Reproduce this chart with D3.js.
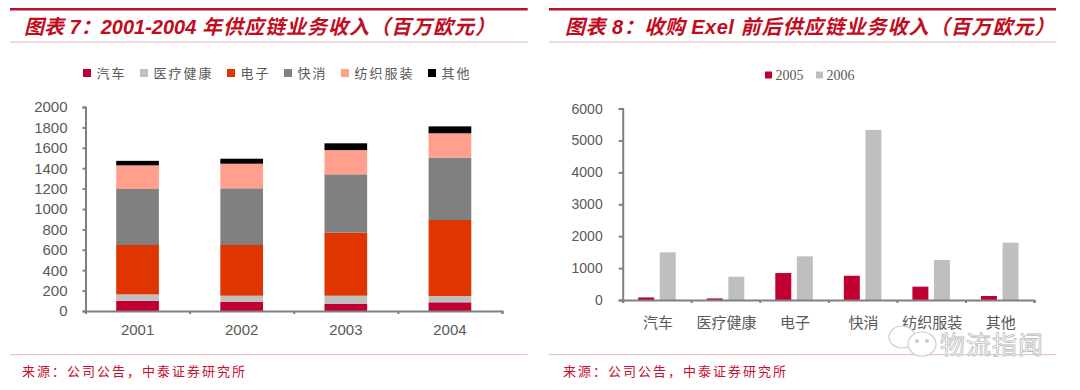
<!DOCTYPE html>
<html>
<head>
<meta charset="utf-8">
<title>供应链业务收入</title>
<style>
  html, body { margin: 0; padding: 0; background: #fff; }
  svg { display: block; }
  text { font-family: "Liberation Sans", "Noto Sans CJK SC", sans-serif; }
  .cjk { font-family: "Noto Sans CJK SC", sans-serif; }
  .axis path, .axis line { stroke: #808080; stroke-width: 2px; }
  .axis text { fill: #595959; }
</style>
</head>
<body>
<script src="https://cdn.jsdelivr.net/npm/d3@7"></script>
<script>
// chart 7 data (stacked)
var years = ["2001", "2002", "2003", "2004"];
var stackNames = ["汽车", "医疗健康", "电子", "快消", "纺织服装", "其他"];
var stackColors = ["#c00030", "#bfbfbf", "#e03500", "#808080", "#ff9f8c", "#000000"];
var auto = [100, 92, 70, 85];
var health = [63, 58, 80, 62];
var electronics = [484, 497, 618, 745];
var fmcg = [549, 556, 572, 611];
var textile = [232, 241, 238, 239];
var other = [44, 49, 66, 68];
var yTicks7 = [0, 200, 400, 600, 800, 1000, 1200, 1400, 1600, 1800, 2000];

// chart 8 data
var sectors = ["汽车", "医疗健康", "电子", "快消", "纺织服装", "其他"];
var groupNames = ["2005", "2006"];
var groupColors = ["#c00030", "#bfbfbf"];
var rev2005 = [80, 50, 845, 760, 418, 125];
var rev2006 = [1495, 730, 1370, 5330, 1254, 1797];
var yTicks8 = [0, 1000, 2000, 3000, 4000, 5000, 6000];

var svg = d3.select("body").append("svg")
    .attr("width", 1080)
    .attr("height", 390);

// title, rules and source for one panel
function frame(x0, x1, titleHead, headSpacing, titleTail, titleX) {
  svg.append("rect").attr("x", x0).attr("y", 8).attr("width", x1 - x0).attr("height", 2.5).attr("fill", "#b8112a");
  svg.append("rect").attr("x", x0).attr("y", 41.5).attr("width", x1 - x0).attr("height", 1.2).attr("fill", "#e3c3c9");
  svg.append("rect").attr("x", x0).attr("y", 354).attr("width", x1 - x0).attr("height", 1.2).attr("fill", "#e8c4cb");
  var t = svg.append("text")
      .attr("x", titleX).attr("y", 34)
      .attr("font-size", 20).attr("font-weight", "bold").attr("font-style", "italic")
      .attr("fill", "#c00d1e")
      .attr("xml:space", "preserve")
      .style("white-space", "pre");
  t.append("tspan").attr("letter-spacing", headSpacing).text(titleHead);
  t.append("tspan").attr("letter-spacing", 1).text(titleTail);
  svg.append("text").attr("class", "cjk")
      .attr("x", titleX - 2).attr("y", 376)
      .attr("font-size", 13).attr("letter-spacing", 2)
      .attr("fill", "#c8102e")
      .text("来源：公司公告，中泰证券研究所");
}

frame(10, 527.7, "图表 7：2001-2004 ", 0, "年供应链业务收入（百万欧元）", 24);
frame(549, 1056, "图表 8：收购 Exel ", 0.5, "前后供应链业务收入（百万欧元）", 565);

// ---- chart 7: stacked bars
var x7 = d3.scaleBand().domain(years).range([85.5, 502]).paddingInner(0.59).paddingOuter(0.295);
var y7 = d3.scaleLinear().domain([0, 2000]).range([311, 107]);

var stackRows = years.map(function(y, i) {
  return { year: y, "汽车": auto[i], "医疗健康": health[i], "电子": electronics[i],
           "快消": fmcg[i], "纺织服装": textile[i], "其他": other[i] };
});
var stacked = d3.stack().keys(stackNames)(stackRows);

svg.append("g").selectAll("g")
    .data(stacked)
  .enter().append("g")
    .attr("fill", function(d, i) { return stackColors[i]; })
  .selectAll("rect")
    .data(function(d) { return d; })
  .enter().append("rect")
    .attr("x", function(d) { return x7(d.data.year); })
    .attr("width", x7.bandwidth())
    .attr("y", function(d) { return y7(d[1]); })
    .attr("height", function(d) { return y7(d[0]) - y7(d[1]); });

svg.append("g").attr("class", "axis")
    .attr("transform", "translate(85.5,0)")
    .call(d3.axisLeft(y7).tickValues(yTicks7).tickFormat(d3.format("d")).tickSize(3).tickPadding(15))
    .call(function(g) { g.selectAll("text").attr("font-size", 15); });

var xTickScale7 = d3.scalePoint().domain(d3.range(years.length + 1)).range([85.5, 502]);
svg.append("g").attr("class", "axis")
    .attr("transform", "translate(0,311)")
    .call(d3.axisBottom(xTickScale7).tickSize(3).tickFormat(""));
svg.append("g").selectAll("text")
    .data(years)
  .enter().append("text")
    .attr("x", function(d) { return x7(d) + x7.bandwidth() / 2; })
    .attr("y", 335)
    .attr("text-anchor", "middle")
    .attr("font-size", 15)
    .attr("fill", "#595959")
    .text(function(d) { return d; });

// legend 7, step depends on the number of characters
var legendX = 83;
stackNames.forEach(function(name, i) {
  svg.append("rect").attr("x", legendX).attr("y", 69).attr("width", 8).attr("height", 8).attr("fill", stackColors[i]);
  svg.append("text").attr("class", "cjk")
      .attr("x", legendX + 13.5).attr("y", 77.5)
      .attr("font-size", 13).attr("letter-spacing", 2)
      .attr("fill", "#595959")
      .text(name);
  legendX += 27 + 15 * name.length;
});

// ---- chart 8: grouped bars
var x8 = d3.scaleBand().domain(sectors).range([622.7, 1034]);
var x8Inner = d3.scaleBand().domain(groupNames).range([15.5, x8.bandwidth() - 15.5]).paddingInner(0.26);
var y8 = d3.scaleLinear().domain([0, 6000]).range([300, 108.6]);
var groupValues = [rev2005, rev2006];

groupNames.forEach(function(name, k) {
  svg.append("g").attr("fill", groupColors[k]).selectAll("rect")
      .data(groupValues[k])
    .enter().append("rect")
      .attr("x", function(d, i) { return x8(sectors[i]) + x8Inner(name); })
      .attr("width", x8Inner.bandwidth())
      .attr("y", function(d) { return y8(d); })
      .attr("height", function(d) { return y8(0) - y8(d); });
});

svg.append("g").attr("class", "axis")
    .attr("transform", "translate(622.7,0)")
    .call(d3.axisLeft(y8).tickValues(yTicks8).tickFormat(d3.format("d")).tickSize(4).tickPadding(16))
    .call(function(g) { g.selectAll("text").attr("font-size", 14); });

var xTickScale8 = d3.scalePoint().domain(d3.range(sectors.length + 1)).range([622.7, 1034]);
svg.append("g").attr("class", "axis")
    .attr("transform", "translate(0,300)")
    .call(d3.axisBottom(xTickScale8).tickSize(3).tickFormat(""));
svg.append("g").selectAll("text")
    .data(sectors)
  .enter().append("text")
    .attr("class", "cjk")
    .attr("x", function(d) { return x8(d) + x8.bandwidth() / 2 + 1; })
    .attr("y", 328)
    .attr("text-anchor", "middle")
    .attr("font-size", 15)
    .attr("fill", "#595959")
    .text(function(d) { return d; });

// legend 8
groupNames.forEach(function(name, i) {
  var lx = 765 + i * 51;
  svg.append("rect").attr("x", lx).attr("y", 71.5).attr("width", 7).attr("height", 7).attr("fill", groupColors[i]);
  svg.append("text")
      .attr("x", lx + 10.5).attr("y", 80)
      .style("font-family", "'Liberation Serif', serif")
      .attr("font-size", 14)
      .attr("fill", "#595959")
      .text(name);
});

// ---- wechat watermark bottom right
var mark = svg.append("g").attr("fill", "#fff").attr("stroke", "#cfcfcf").attr("stroke-width", 1.2);
mark.append("ellipse").attr("cx", 902).attr("cy", 337).attr("rx", 13).attr("ry", 11);
mark.append("ellipse").attr("cx", 922).attr("cy", 344).attr("rx", 14).attr("ry", 12);
mark.append("circle").attr("cx", 917).attr("cy", 341).attr("r", 1.4).attr("fill", "#c9c9c9");
mark.append("circle").attr("cx", 927).attr("cy", 341).attr("r", 1.4).attr("fill", "#c9c9c9");
svg.append("text").attr("class", "cjk")
    .attr("x", 940).attr("y", 354)
    .attr("font-size", 25)
    .attr("letter-spacing", 1)
    .attr("fill", "#fff")
    .attr("stroke", "#bdbdbd")
    .attr("stroke-width", 0.8)
    .text("物流指闻");
</script>
</body>
</html>
